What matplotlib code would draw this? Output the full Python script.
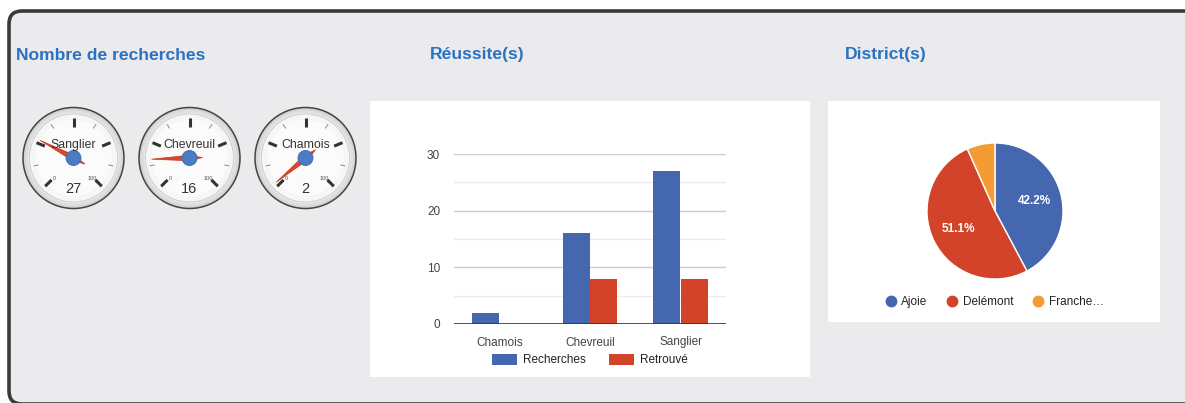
import numpy as np
import matplotlib
matplotlib.use("Agg")
import matplotlib.pyplot as plt
import matplotlib.patches as patches
from matplotlib.lines import Line2D

plt.rcParams["font.family"] = ["Liberation Sans", "DejaVu Sans"]

# ----------------------------------
# DATA
# ----------------------------------
gauge_names = ["Sanglier", "Chevreuil", "Chamois"]
gauge_values = [27, 16, 2]

bar_categories = ["Chamois", "Chevreuil", "Sanglier"]
recherches = [2, 16, 27]
retrouve = [0, 8, 8]

districts = ["Ajoie", "Delémont", "Franche…"]
district_counts = [19, 23, 3]

# ----------------------------------
# COLORS
# ----------------------------------
BLUE = "#4467b0"
RED = "#d2432a"
ORANGE = "#f49b34"
TITLE = "#2a72c2"
PANEL = "#ebebed"

W, H = 1185, 403


def px_axes(fig, x0, y0, x1, y1):
    """Axes from pixel box (top-left origin)."""
    return fig.add_axes([x0 / W, (H - y1) / H, (x1 - x0) / W, (y1 - y0) / H])


fig = plt.figure(figsize=(W / 100, H / 100), dpi=100)
fig.patch.set_facecolor("white")

bg = fig.add_axes([0, 0, 1, 1])
bg.set_xlim(0, W)
bg.set_ylim(H, 0)
bg.axis("off")

# panel with rounded border
bg.add_patch(patches.FancyBboxPatch((9, 11), W + 30, 393,
                                    boxstyle="round,pad=0,rounding_size=13",
                                    fc=PANEL, ec="#3a3a3a", lw=2.6))

for x, t in [(16, "Nombre de recherches"), (430, "Réussite(s)"), (845, "District(s)")]:
    bg.text(x, 55, t, fontsize=12.6, fontweight="bold", color=TITLE, va="center", ha="left")

# white chart boxes
bg.add_patch(patches.Rectangle((370, 101), 440, 276, fc="white", ec="none"))
bg.add_patch(patches.Rectangle((828, 101), 332, 221, fc="white", ec="none"))

# ----------------------------------
# GAUGES
# ----------------------------------
def angle_of(v):
    return np.deg2rad(225 - 270 * v / 100)


for i, (name, val) in enumerate(zip(gauge_names, gauge_values)):
    cx, cy = 73.5 + 116 * i, 158
    ax = px_axes(fig, cx - 56, cy - 56, cx + 56, cy + 56)
    ax.set_xlim(-56, 56)
    ax.set_ylim(-56, 56)
    ax.axis("off")

    ax.add_patch(patches.Circle((0, 0), 50.5, fc="#d4d4d4", ec="#444444", lw=1.1))
    ax.add_patch(patches.Circle((0, 0), 48, fc="#dedede", ec="none"))
    ax.add_patch(patches.Circle((0, 0), 45.5, fc="#e9e9e9", ec="none"))
    ax.add_patch(patches.Circle((0, 0), 44, fc="#f6f6f6", ec="#c4c4c4", lw=0.5))
    ax.add_patch(patches.Circle((0, 0), 38, fc="#fbfbfb", ec="none"))

    for v in [0, 25, 50, 75, 100]:
        a = angle_of(v)
        ax.plot([31 * np.cos(a), 40 * np.cos(a)], [31 * np.sin(a), 40 * np.sin(a)],
                color="#333333", lw=2.2, solid_capstyle="butt")
    for v in [12.5, 37.5, 62.5, 87.5]:
        a = angle_of(v)
        ax.plot([36 * np.cos(a), 40 * np.cos(a)], [36 * np.sin(a), 40 * np.sin(a)],
                color="#888888", lw=0.7)

    ax.text(-19, -21, "0", fontsize=4, color="#555555", ha="center", va="center")
    ax.text(19, -21, "100", fontsize=4, color="#555555", ha="center", va="center")
    ax.text(0, 13, name, fontsize=8.8, color="#333333", ha="center", va="center")
    ax.text(0, -31, str(val), fontsize=10.5, color="#333333", ha="center", va="center")

    a = angle_of(val)
    d = np.array([np.cos(a), np.sin(a)])
    p = np.array([-d[1], d[0]])
    needle = [38 * d, 2.8 * p, -13 * d, -2.8 * p]
    ax.add_patch(patches.Polygon(needle, closed=True, fc="#d9482b", ec="#c03a20", lw=0.5))
    ax.add_patch(patches.Circle((0, 0), 7.5, fc="#4a7bc4", ec="#3d69ad", lw=0.6))

# ----------------------------------
# BAR CHART
# ----------------------------------
axb = px_axes(fig, 454, 154, 726, 324)
x = np.arange(len(bar_categories))
bw = 0.298
axb.bar(x - 0.151, recherches, width=bw, color=BLUE, zorder=3, label="Recherches")
axb.bar(x + 0.151, retrouve, width=bw, color=RED, zorder=3, label="Retrouvé")
axb.set_xlim(-0.5, 2.5)
axb.set_ylim(0, 30)
for y in [5, 15, 25]:
    axb.axhline(y, color="#ececec", lw=1, zorder=1)
for y in [10, 20, 30]:
    axb.axhline(y, color="#cccccc", lw=1, zorder=1)
axb.axhline(0, color="#333333", lw=1.2, zorder=4)
axb.set_yticks([0, 10, 20, 30])
axb.set_xticks(x)
axb.set_xticklabels(bar_categories)
axb.tick_params(length=0, labelsize=8.5, colors="#444444")
axb.tick_params(axis="y", pad=10)
axb.tick_params(axis="x", pad=9)
for s in axb.spines.values():
    s.set_visible(False)
axb.set_facecolor("none")
axb.legend(loc="center", bbox_to_anchor=(590, 360), bbox_transform=bg.transData,
           ncol=2, frameon=False, fontsize=8.5, handlelength=2.1, handleheight=1.05,
           columnspacing=2.0, handletextpad=0.5, labelcolor="#222222")

# ----------------------------------
# PIE
# ----------------------------------
axp = px_axes(fig, 995 - 68, 211 - 68, 995 + 68, 211 + 68)
wedges, _, autotexts = axp.pie(
    district_counts, colors=[BLUE, RED, ORANGE], startangle=90, counterclock=False,
    autopct=lambda p: f"{p:.1f}%" if p > 10 else "", pctdistance=0.6,
    wedgeprops=dict(edgecolor="white", linewidth=1),
    textprops=dict(color="white", fontsize=8.5, fontweight="bold"))
axp.set_xlim(-1, 1)
axp.set_ylim(-1, 1)

handles = [Line2D([], [], marker="o", ls="none", markersize=7.5, color=c)
           for c in [BLUE, RED, ORANGE]]
axp.legend(handles, districts, loc="center", bbox_to_anchor=(995, 302),
           bbox_transform=bg.transData, ncol=3, frameon=False, fontsize=8.5,
           handlelength=0.8, handletextpad=0.5, columnspacing=1.7, labelcolor="#222222")

fig.savefig("out.png", dpi=100)
